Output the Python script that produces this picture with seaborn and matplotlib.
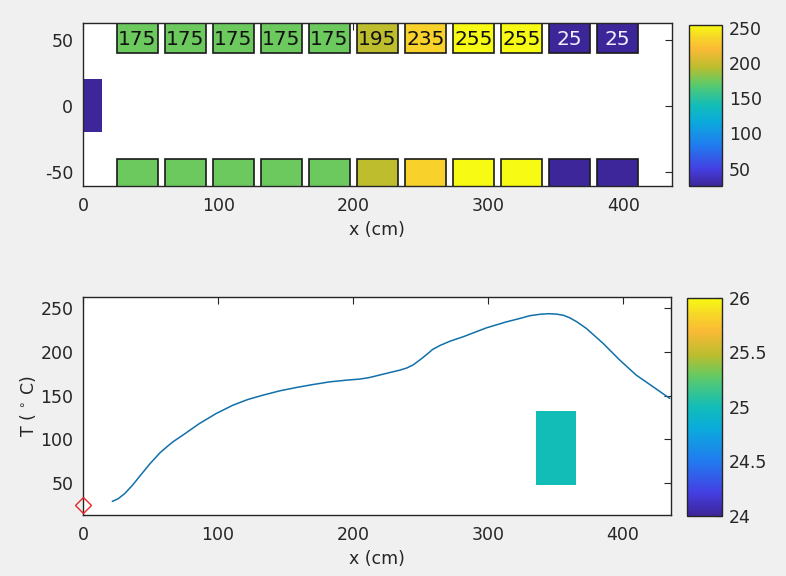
import matplotlib
matplotlib.use("Agg")
import matplotlib.pyplot as plt
import seaborn as sns
import numpy as np
import pandas as pd
from matplotlib.patches import Rectangle
from matplotlib.colors import LinearSegmentedColormap, Normalize
from matplotlib.cm import ScalarMappable
from matplotlib.ticker import FuncFormatter

# ---------------- data ----------------
zone_starts = [25, 60.5, 96, 131.5, 167, 202.5, 238, 273.5, 309, 344.5, 380]
zone_width = 30.5
zone_temps = [175, 175, 175, 175, 175, 195, 235, 255, 255, 25, 25]
board_x = [0, 14]
board_y = [-20, 20]
board_temp = 25

curve_x = [21.7, 26, 31, 37, 43, 49.4, 56.8, 62, 66.7, 74, 86.4, 98.8, 111, 122, 133.6, 146,
           158.3, 170, 183, 195.3, 205, 212, 220, 228, 234.8, 240, 244.7, 249.5, 254.5,
           259, 264.4, 272, 281.7, 299, 313.8, 324, 331.1, 338.5, 345, 350.9, 356,
           360.7, 366, 373, 385.4, 397.8, 410, 422.5, 434.8]
curve_T = [29.5, 32.5, 38.5, 48.5, 60, 72, 84.5, 91.5, 97.4, 105, 118.3, 129.7, 139, 145.5, 150.6,
           155.5, 159.3, 162.5, 165.7, 167.6, 168.8, 170.5, 173.5, 176.5, 179, 181.5,
           185, 190.5, 196.5, 202.5, 207, 212, 217, 227.2, 234, 238, 241, 242.6, 243.3,
           242.8, 241.5, 238.6, 234, 226.5, 209.5, 190.4, 173.3, 160, 146.8]
start_x = [0]
start_T = [25]
block_x = [336, 365]
block_y = [48, 133]
block_val = 25

top_xticks = [0, 100, 200, 300, 400]
top_yticks = [-50, 0, 50]
bot_yticks = [50, 100, 150, 200, 250]
cb1_ticks = [50, 100, 150, 200, 250]
cb2_ticks = [24, 24.5, 25, 25.5, 26]

# ---------------- parula-like colormap (style) ----------------
parula_anchors = [
    (0.00, (0.24, 0.15, 0.60)),
    (0.10, (0.27, 0.24, 0.88)),
    (0.25, (0.13, 0.48, 0.94)),
    (0.40, (0.04, 0.67, 0.86)),
    (0.50, (0.07, 0.74, 0.72)),
    (0.60, (0.28, 0.78, 0.50)),
    (0.65, (0.42, 0.79, 0.37)),
    (0.74, (0.74, 0.74, 0.18)),
    (0.85, (0.98, 0.73, 0.21)),
    (0.92, (0.97, 0.83, 0.16)),
    (1.00, (0.97, 0.98, 0.07)),
]
parula = LinearSegmentedColormap.from_list("parula_like", parula_anchors, N=256)

# ---------------- style ----------------
sns.set_theme(style="white")
dark = "#262626"
plt.rcParams.update({
    "font.family": ["DejaVu Sans"],
    "font.size": 12,
    "axes.unicode_minus": False,
    "axes.edgecolor": dark,
    "axes.linewidth": 1.0,
    "xtick.color": dark,
    "ytick.color": dark,
    "xtick.labelcolor": dark,
    "ytick.labelcolor": dark,
    "axes.labelcolor": dark,
    "xtick.direction": "in",
    "ytick.direction": "in",
    "xtick.major.size": 5,
    "ytick.major.size": 5,
    "xtick.major.width": 0.8,
    "ytick.major.width": 0.8,
    "xtick.major.pad": 8,
    "ytick.major.pad": 7,
    "xtick.labelsize": 12.5,
    "ytick.labelsize": 12.5,
    "axes.labelsize": 12.5,
})

fig = plt.figure(figsize=(7.86, 5.76), dpi=100, facecolor="#f0f0f0")
ax1 = fig.add_axes([0.1056, 0.677, 0.749, 0.283])
ax2 = fig.add_axes([0.1056, 0.1059, 0.7477, 0.378])
cax1 = fig.add_axes([0.877, 0.677, 0.0412, 0.280])
cax2 = fig.add_axes([0.874, 0.1047, 0.044, 0.378])

norm1 = Normalize(vmin=min(zone_temps), vmax=max(zone_temps))

# ---------------- top panel ----------------
for xs, t in zip(zone_starts, zone_temps):
    c = parula(norm1(t))
    for y0 in (40, -70):
        ax1.add_patch(Rectangle((xs, y0), zone_width, 30, facecolor=c,
                                edgecolor="#1a1a1a", linewidth=1.2))
    ax1.text(xs + zone_width / 2, 50, str(t), ha="center", va="center",
             fontsize=14.5, color=("#f2f0ff" if t < 100 else "#111111"))
ax1.add_patch(Rectangle((board_x[0], board_y[0]), board_x[1] - board_x[0],
                        board_y[1] - board_y[0], facecolor=parula(norm1(board_temp)),
                        edgecolor="none"))
ax1.set_xlim(0, 435.5)
ax1.set_ylim(-60.5, 62.5)
ax1.set_xticks(top_xticks)
ax1.set_yticks(top_yticks)
ax1.set_xlabel("x (cm)", labelpad=4)
ax1.tick_params(top=True, right=True, labeltop=False, labelright=False)

# ---------------- bottom panel ----------------
df = pd.DataFrame({"x": curve_x, "T": curve_T})
sns.lineplot(data=df, x="x", y="T", ax=ax2, color="#1170aa", linewidth=1.1,
             estimator=None, sort=False)
norm2 = Normalize(vmin=block_val - 1, vmax=block_val + 1)
ax2.add_patch(Rectangle((block_x[0], block_y[0]), block_x[1] - block_x[0],
                        block_y[1] - block_y[0], facecolor=parula(norm2(block_val)),
                        edgecolor="none"))
ax2.plot(start_x, start_T, marker="D", markersize=8.5, markerfacecolor="none",
         markeredgecolor="#e8262b", markeredgewidth=1.0, linestyle="none",
         clip_on=False, zorder=5)
ax2.set_xlim(0, 435.5)
ax2.set_ylim(14, 262)
ax2.set_xticks(top_xticks)
ax2.set_yticks(bot_yticks)
ax2.set_xlabel("x (cm)", labelpad=4)
ax2.set_ylabel("T ( $^{\\circ}$ C)", labelpad=2)
ax2.tick_params(top=True, right=True, labeltop=False, labelright=False)

# ---------------- colorbars ----------------
for cax, norm, ticks in ((cax1, norm1, cb1_ticks), (cax2, norm2, cb2_ticks)):
    sm = ScalarMappable(norm=norm, cmap=parula)
    cb = fig.colorbar(sm, cax=cax, ticks=ticks)
    cb.outline.set_edgecolor(dark)
    cb.outline.set_linewidth(1.0)
    cax.yaxis.set_major_formatter(FuncFormatter(lambda v, p: "%g" % v))
    cax.tick_params(direction="in", length=4, color=dark, labelsize=12.5,
                    labelcolor=dark, pad=5)

fig.savefig("out.png", dpi=100, facecolor=fig.get_facecolor())
